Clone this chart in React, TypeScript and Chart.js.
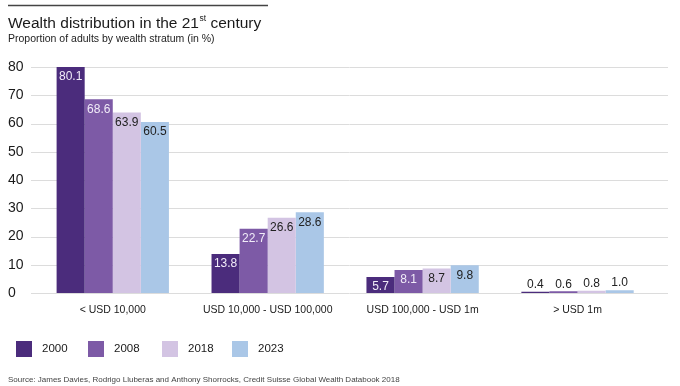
import React, { useEffect, useRef } from "react";
import { Chart, registerables } from "chart.js";

Chart.register(...registerables);

const categories = ["< USD 10,000", "USD 10,000 - USD 100,000", "USD 100,000 - USD 1m", "> USD 1m"];
const seriesNames = ["2000", "2008", "2018", "2023"];
const values2000 = [80.1, 13.8, 5.7, 0.4];
const values2008 = [68.6, 22.7, 8.1, 0.6];
const values2018 = [63.9, 26.6, 8.7, 0.8];
const values2023 = [60.5, 28.6, 9.8, 1.0];
const yTicks = [0, 10, 20, 30, 40, 50, 60, 70, 80];

const colors = ["#4b2c7c", "#7d5aa6", "#d3c4e3", "#aac7e7"];
const labelColors = ["#f1ecf8", "#f1ecf8", "#222222", "#222222"];
const FONT = "'Liberation Sans', Arial, sans-serif";

const decorPlugin = {
  id: "decor",
  beforeDatasetsDraw(chart: any) {
    const ctx = chart.ctx;
    const y = chart.scales.y;
    ctx.save();
    ctx.strokeStyle = "#dcdcdc";
    ctx.lineWidth = 1;
    yTicks.forEach((t) => {
      const py = Math.round(y.getPixelForValue(t)) + 0.5;
      ctx.beginPath();
      ctx.moveTo(31, py);
      ctx.lineTo(668, py);
      ctx.stroke();
    });
    ctx.restore();
  },
  afterDraw(chart: any) {
    const ctx = chart.ctx;
    ctx.save();
    ctx.strokeStyle = "#444444";
    ctx.lineWidth = 1.5;
    ctx.beginPath();
    ctx.moveTo(8, 5.5);
    ctx.lineTo(268, 5.5);
    ctx.stroke();
    ctx.fillStyle = "#1a1a1a";
    ctx.textBaseline = "alphabetic";
    ctx.textAlign = "left";
    ctx.font = `15.5px ${FONT}`;
    const t1 = "Wealth distribution in the 21";
    ctx.fillText(t1, 8, 27.5);
    const w = ctx.measureText(t1).width;
    ctx.font = `8.5px ${FONT}`;
    ctx.fillText("st", 8 + w + 0.5, 21);
    const w2 = ctx.measureText("st").width;
    ctx.font = `15.5px ${FONT}`;
    ctx.fillText(" century", 8 + w + 0.5 + w2, 27.5);
    ctx.font = `10.5px ${FONT}`;
    ctx.fillStyle = "#222222";
    ctx.fillText("Proportion of adults by wealth stratum (in %)", 8, 42);
    const lx = [16, 88, 162, 232];
    ctx.font = `11.5px ${FONT}`;
    ctx.textBaseline = "middle";
    seriesNames.forEach((n, i) => {
      ctx.fillStyle = colors[i];
      ctx.fillRect(lx[i], 341, 16, 16);
      ctx.fillStyle = "#1a1a1a";
      ctx.fillText(n, lx[i] + 26, 349);
    });
    ctx.font = `8px ${FONT}`;
    ctx.fillStyle = "#444444";
    ctx.fillText(
      "Source: James Davies, Rodrigo Lluberas and Anthony Shorrocks, Credit Suisse Global Wealth Databook 2018",
      8,
      380
    );
    ctx.restore();
  },
  afterDatasetsDraw(chart: any) {
    const ctx = chart.ctx;
    ctx.save();
    ctx.font = `12px ${FONT}`;
    ctx.textAlign = "center";
    ctx.textBaseline = "middle";
    chart.data.datasets.forEach((ds: any, di: number) => {
      const meta = chart.getDatasetMeta(di);
      meta.data.forEach((bar: any, i: number) => {
        const v = ds.data[i];
        const txt = v.toFixed(1);
        if (v < 3) {
          ctx.fillStyle = "#222222";
          ctx.fillText(txt, bar.x, bar.y - 7);
        } else {
          ctx.fillStyle = labelColors[di];
          ctx.fillText(txt, bar.x, bar.y + 10);
        }
      });
    });
    ctx.restore();
  },
};

export default function App() {
  const ref = useRef<HTMLCanvasElement>(null);
  useEffect(() => {
    if (!ref.current) return;
    const all = [values2000, values2008, values2018, values2023];
    const chart = new Chart(ref.current, {
      type: "bar",
      data: {
        labels: categories,
        datasets: all.map((d, i) => ({
          label: seriesNames[i],
          data: d,
          backgroundColor: colors[i],
          borderWidth: 0,
          categoryPercentage: 0.725,
          barPercentage: 1,
        })),
      },
      options: {
        animation: false,
        responsive: false,
        maintainAspectRatio: false,
        layout: { padding: { left: 8, right: 25, top: 67, bottom: 0 } },
        plugins: {
          legend: { display: false },
          tooltip: { enabled: false },
          title: { display: false },
        },
        scales: {
          x: {
            grid: { display: false, drawTicks: false },
            border: { display: false },
            ticks: {
              color: "#1a1a1a",
              font: { family: FONT, size: 10.5 },
              padding: 11,
              maxRotation: 0,
              autoSkip: false,
            },
            afterFit: (s: any) => {
              s.height = 93;
            },
          },
          y: {
            min: 0,
            max: 80,
            grid: { display: false, drawTicks: false },
            border: { display: false },
            afterBuildTicks: (s: any) => {
              s.ticks = yTicks.map((v) => ({ value: v }));
            },
            ticks: {
              color: "#1a1a1a",
              font: { family: FONT, size: 14 },
              crossAlign: "far",
              padding: 0,
            },
            afterFit: (s: any) => {
              s.width = 27.3;
            },
          },
        },
      },
      plugins: [decorPlugin],
    });
    return () => chart.destroy();
  }, []);
  return (
    <div style={{ position: "absolute", left: 0, top: 0, width: 680, height: 386, background: "#fff" }}>
      <canvas ref={ref} width={680} height={386} style={{ width: 680, height: 386, display: "block" }} />
    </div>
  );
}
